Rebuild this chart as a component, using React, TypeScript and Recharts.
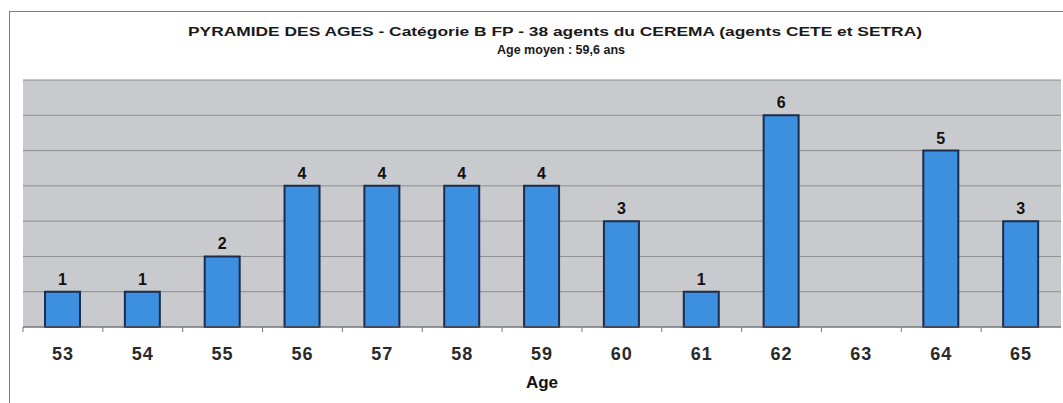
import { Bar, BarChart, CartesianGrid, LabelList, XAxis, YAxis } from 'recharts'

const ages = ['53', '54', '55', '56', '57', '58', '59', '60', '61', '62', '63', '64', '65']
const agents = [1, 1, 2, 4, 4, 4, 4, 3, 1, 6, 0, 5, 3]
const yTicks = [0, 1, 2, 3, 4, 5, 6, 7]

const titleLine1 = 'PYRAMIDE DES AGES - Catégorie B FP - 38 agents du CEREMA (agents CETE et SETRA)'
const titleLine2 = 'Age moyen : 59,6 ans'

const chartData = ages.map((age, i) => ({ age, total: agents[i] }))

const W = 1063
const H = 403
const margin = { top: 80, right: 2, bottom: 0, left: 23 }
const band = (W - margin.left - margin.right) / ages.length
const font = 'Liberation Sans, Arial, sans-serif'

function AgeTick(props: any) {
  const { x, y, payload } = props
  return (
    <g>
      <line x1={x - band / 2} x2={x - band / 2} y1={y - 8} y2={y - 3} stroke='#777' />
      <text
        x={x}
        y={y + 25}
        textAnchor='middle'
        fontSize={18}
        fontWeight='bold'
        letterSpacing={1}
        fill='#2a2a2a'
        fontFamily={font}
      >
        {payload.value}
      </text>
    </g>
  )
}

export default function App() {
  return (
    <div style={{ position: 'absolute', left: 0, top: 0, width: W, height: H, background: '#fff', overflow: 'hidden' }}>
      <div style={{ position: 'absolute', left: 9, top: 11, width: 1060, height: 420, border: '1px solid #808080' }} />
      <svg width={W} height={70} style={{ position: 'absolute', left: 0, top: 0 }}>
        <text x={188} y={36} fontSize={12} fontWeight='bold' fill='#1a1a1a' fontFamily={font} textLength={734} lengthAdjust='spacingAndGlyphs'>
          {titleLine1}
        </text>
        <text x={497} y={54} fontSize={12} fontWeight='bold' fill='#1a1a1a' fontFamily={font} textLength={128} lengthAdjust='spacingAndGlyphs'>
          {titleLine2}
        </text>
      </svg>
      <div style={{ position: 'absolute', left: 0, top: 0 }}>
        <BarChart width={W} height={H} data={chartData} margin={margin} barSize={35}>
          <CartesianGrid vertical={false} fill='#c9cacd' stroke='#8e8e90' strokeWidth={1} />
          <YAxis hide domain={[0, 7]} ticks={yTicks} />
          <XAxis
            dataKey='age'
            axisLine={{ stroke: '#6a6a6a' }}
            tickLine={false}
            tick={<AgeTick />}
            interval={0}
            height={76}
            label={{ value: 'Age', position: 'insideBottom', offset: 15, fontSize: 17, fontWeight: 'bold', fill: '#111', fontFamily: font }}
          />
          <Bar dataKey='total' fill='#3d8fe0' stroke='#1b2c4c' strokeWidth={2} isAnimationActive={false}>
            <LabelList
              dataKey='total'
              position='top'
              offset={7}
              fontSize={16}
              fontWeight='bold'
              fill='#111'
              fontFamily={font}
              formatter={(v: any) => (v ? v : '')}
            />
          </Bar>
        </BarChart>
      </div>
    </div>
  )
}
